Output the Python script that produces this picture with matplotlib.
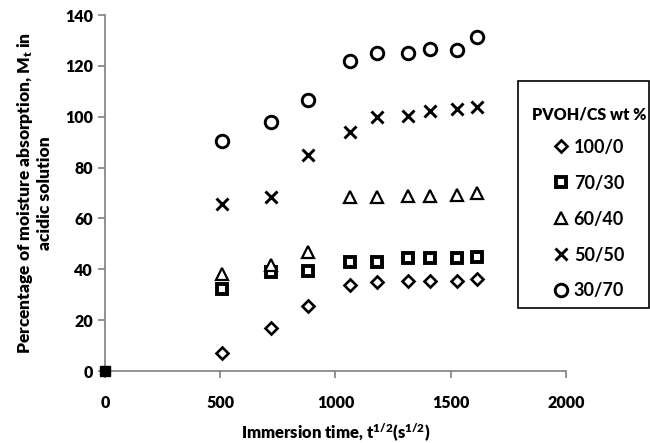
import matplotlib.pyplot as plt
from matplotlib.lines import Line2D
from matplotlib.patches import Rectangle

# immersion time (square root of seconds)
t_sqrt = [0, 509, 722, 882, 1062, 1178, 1315, 1410, 1525, 1612]

# moisture absorption (%) for each PVOH/CS blend
pvoh_100_0 = [0, 7.0, 16.8, 25.7, 33.8, 35.1, 35.4, 35.5, 35.5, 36.0]
pvoh_70_30 = [0, 32.1, 39.0, 39.5, 43.0, 43.0, 44.3, 44.3, 44.3, 45.0]
pvoh_60_40 = [0, 38.0, 41.5, 47.0, 68.3, 68.5, 68.7, 68.7, 69.2, 70.0]
pvoh_50_50 = [0, 65.7, 68.5, 84.8, 94.1, 100.0, 100.3, 102.4, 102.9, 103.7]
pvoh_30_70 = [0, 90.5, 97.8, 106.6, 122.0, 125.0, 125.2, 126.5, 126.2, 131.5]

labels = ["100/0", "70/30", "60/40", "50/50", "30/70"]

W = 'heavy'
plt.rcParams['font.family'] = ['Lato', 'DejaVu Sans']
plt.rcParams['font.weight'] = W
plt.rcParams['axes.labelweight'] = W
plt.rcParams['mathtext.fontset'] = 'custom'
plt.rcParams['mathtext.rm'] = 'Lato:heavy'
plt.rcParams['mathtext.it'] = 'Lato:heavy'

fig = plt.figure(figsize=(6.5, 4.43), dpi=100)
ax = fig.add_axes([0.1615, 0.1625, 0.7093, 0.8035])

styles = [
    dict(marker='D', markersize=6.5, markerfacecolor='white', markeredgewidth=1.9),
    dict(marker='s', markersize=7, markerfacecolor='white', markeredgewidth=2.8),
    dict(marker='^', markersize=8, markerfacecolor='white', markeredgewidth=1.6),
    dict(marker='x', markersize=8, markeredgewidth=2.1),
    dict(marker='o', markersize=9, markerfacecolor='white', markeredgewidth=2.1),
]
series = [pvoh_100_0, pvoh_70_30, pvoh_60_40, pvoh_50_50, pvoh_30_70]

for y, st in zip(series, styles):
    ax.plot(t_sqrt[1:], y[1:], linestyle='none', color='black', markeredgecolor='black', **st)

# the zero points overlap at the origin and show as a filled square
ax.plot([t_sqrt[0]], [pvoh_70_30[0]], linestyle='none', marker='s', markersize=7,
        color='black', clip_on=False, zorder=5)

ax.set_xlim(0, 2000)
ax.set_ylim(0, 140)
ax.set_xticks([0, 500, 1000, 1500, 2000])
ax.set_yticks(range(0, 141, 20))
for s in ['top', 'right']:
    ax.spines[s].set_visible(False)
for s in ['left', 'bottom']:
    ax.spines[s].set_color('#808080')
    ax.spines[s].set_linewidth(1.2)
ax.tick_params(axis='both', color='#808080', length=5, width=1.2, labelsize=11.5)
ax.tick_params(axis='x', pad=12)

ax.set_xlabel(r"Immersion time, t$^{1/2}$(s$^{1/2}$)", fontsize=12, labelpad=8)
ax.set_ylabel("Percentage of moisture absorption, M$_t$ in\nacidic solution",
              fontsize=12.5, labelpad=9, linespacing=1.1)

# legend box
fig.patches.append(Rectangle((518 / 650, 1 - 308 / 443), 131 / 650, 227 / 443,
                             transform=fig.transFigure, facecolor='white',
                             edgecolor='black', linewidth=1.2))

handles = [Line2D([], [], linestyle='none', color='black', markeredgecolor='black', **st)
           for st in styles]
leg = fig.legend(handles, labels, title="PVOH/CS wt %", loc='upper center',
                 bbox_to_anchor=(589 / 650, 1 - 106 / 443), frameon=False,
                 prop={'size': 13, 'weight': 'bold'}, handlelength=0.8,
                 handletextpad=0.3, labelspacing=1.05, borderpad=0, borderaxespad=0,
                 title_fontproperties={'weight': W, 'size': 11.5})
leg._legend_box.sep = 12

fig.savefig("out.png", dpi=100)
